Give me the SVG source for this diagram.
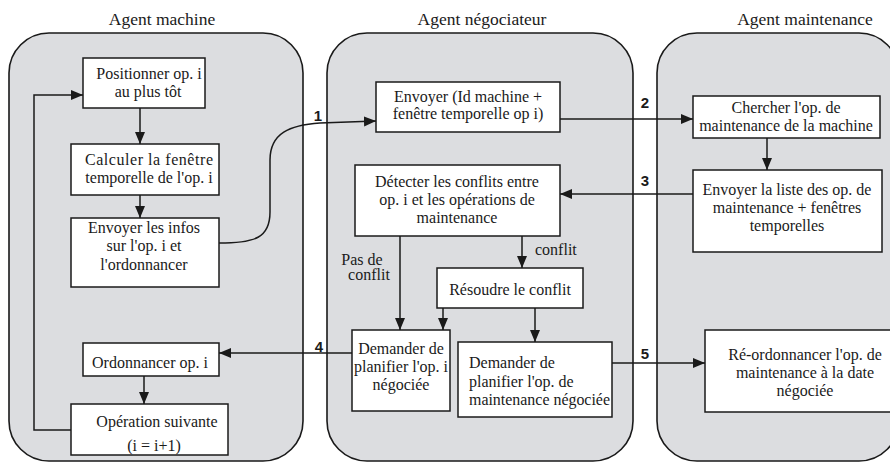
<svg xmlns="http://www.w3.org/2000/svg" width="890" height="464" viewBox="0 0 890 464">
<defs>
<marker id="ah" markerUnits="userSpaceOnUse" markerWidth="13" markerHeight="11" refX="12" refY="5" orient="auto">
<path d="M0,0 L12,5 L0,10 Z" fill="#1a1a1a"/>
</marker>
<style>
.panel{fill:#dcdde0;stroke:#1a1a1a;stroke-width:1.6}
.box{fill:#fff;stroke:#1a1a1a;stroke-width:1.5}
.t{font-size:16px;fill:#1a1a1a;text-anchor:middle}
.title{font-size:17.5px;fill:#1a1a1a;text-anchor:middle}
.num{font-size:15px;font-weight:bold;fill:#1a1a1a;text-anchor:middle}
.c{fill:none;stroke:#1a1a1a;stroke-width:1.5}
.ca{fill:none;stroke:#1a1a1a;stroke-width:1.5;marker-end:url(#ah)}
</style>
</defs>
<rect width="890" height="464" fill="#fff"/>
<g font-family="Liberation Serif, Times New Roman, Times, serif">
<g id="panels">
<rect class="panel" x="9" y="33" width="294" height="428" rx="40" ry="40"/>
<rect class="panel" x="327" y="33" width="306" height="428" rx="40" ry="40"/>
<rect class="panel" x="657" y="33" width="242" height="428" rx="40" ry="40"/>
<text class="title" x="162" y="25">Agent machine</text>
<text class="title" x="482" y="25">Agent négociateur</text>
<text class="title" x="805" y="25">Agent maintenance</text>
</g>
<g id="connectors">
<path class="ca" d="M140,108 L140,144"/>
<path class="ca" d="M140,195 L140,218"/>
<path class="ca" d="M144,376 L144,404"/>
<path class="ca" d="M71,430 L34,430 L34,95 L83,95"/>
<path class="ca" d="M219,243 C255,243 270,238 270,212 L270,160 C270,133 290,125 320,123 L376,121"/>
<path class="ca" d="M560,119 L693,119"/>
<path class="ca" d="M767,138 L767,170"/>
<path class="ca" d="M693,194 L560,194"/>
<path class="ca" d="M400,236 L400,330"/>
<path class="ca" d="M522,236 L522,268"/>
<path class="ca" d="M443,308 L443,330"/>
<path class="ca" d="M535,308 L535,342"/>
<path class="ca" d="M352,353 L219,353"/>
<path class="ca" d="M612,363 L705,363"/>
<g font-family="Liberation Sans, Arial, sans-serif">
<text class="num" x="318" y="121">1</text>
<text class="num" x="645" y="108">2</text>
<text class="num" x="645" y="186">3</text>
<text class="num" x="319" y="352">4</text>
<text class="num" x="645" y="359">5</text>
</g>
<text class="t" x="362" y="265">Pas de</text>
<text class="t" x="369" y="280">conflit</text>
<text class="t" x="535" y="255" style="text-anchor:start">conflit</text>
</g>
<g id="m1">
<rect class="box" x="83" y="58" width="122" height="50"/>
<text class="t" x="149" y="79">Positionner op. i</text>
<text class="t" x="148" y="97">au plus tôt</text>
</g>
<g id="m2">
<rect class="box" x="71" y="144" width="148" height="51"/>
<text class="t" x="85" y="165" style="text-anchor:start" textLength="128" lengthAdjust="spacing">Calculer la fenêtre</text>
<text class="t" x="149" y="183">temporelle de l'op. i</text>
</g>
<g id="m3">
<rect class="box" x="71" y="218" width="148" height="69"/>
<text class="t" x="144" y="233">Envoyer les infos</text>
<text class="t" x="144" y="251">sur l'op. i et</text>
<text class="t" x="144" y="270">l'ordonnancer</text>
</g>
<g id="m4">
<rect class="box" x="83" y="343" width="136" height="33"/>
<text class="t" x="150" y="368">Ordonnancer op. i</text>
</g>
<g id="m5">
<rect class="box" x="71" y="404" width="157" height="51"/>
<text class="t" x="157" y="427">Opération suivante</text>
<text class="t" x="154" y="451">(i = i+1)</text>
</g>
<g id="n1">
<rect class="box" x="376" y="82" width="184" height="50"/>
<text class="t" x="468" y="102">Envoyer (Id machine +</text>
<text class="t" x="468" y="119">fenêtre temporelle op i)</text>
</g>
<g id="n2">
<rect class="box" x="355" y="165" width="205" height="71"/>
<text class="t" x="457" y="187">Détecter les conflits entre</text>
<text class="t" x="457" y="205">op. i et les opérations de</text>
<text class="t" x="457" y="223">maintenance</text>
</g>
<g id="n3">
<rect class="box" x="437" y="268" width="146" height="40"/>
<text class="t" x="510" y="295">Résoudre le conflit</text>
</g>
<g id="n4">
<rect class="box" x="352" y="330" width="98" height="81"/>
<text class="t" x="401" y="354">Demander de</text>
<text class="t" x="401" y="372">planifier l'op. i</text>
<text class="t" x="401" y="390">négociée</text>
</g>
<g id="n5">
<rect class="box" x="458" y="342" width="154" height="75"/>
<text class="t" x="469" y="368" style="text-anchor:start">Demander de</text>
<text class="t" x="469" y="387" style="text-anchor:start">planifier l'op. de</text>
<text class="t" x="469" y="405" style="text-anchor:start" textLength="141" lengthAdjust="spacingAndGlyphs">maintenance négociée</text>
</g>
<g id="r1">
<rect class="box" x="693" y="96" width="187" height="42"/>
<text class="t" x="786" y="113">Chercher l'op. de</text>
<text class="t" x="786" y="131">maintenance de la machine</text>
</g>
<g id="r2">
<rect class="box" x="693" y="170" width="189" height="82"/>
<text class="t" x="787" y="195">Envoyer la liste des op. de</text>
<text class="t" x="787" y="213">maintenance + fenêtres</text>
<text class="t" x="787" y="231">temporelles</text>
</g>
<g id="r3">
<rect class="box" x="705" y="330" width="192" height="82"/>
<text class="t" x="805" y="360">Ré-ordonnancer l'op. de</text>
<text class="t" x="805" y="378">maintenance à la date</text>
<text class="t" x="805" y="396">négociée</text>
</g>
</g>
</svg>
